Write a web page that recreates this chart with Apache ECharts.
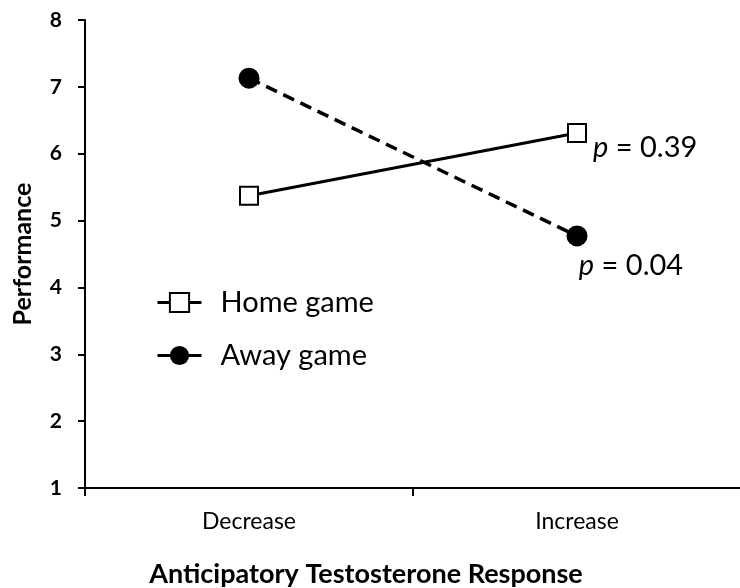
<!DOCTYPE html>
<html>
<head>
<meta charset="utf-8">
<script src="https://cdn.jsdelivr.net/npm/echarts@6/dist/echarts.min.js"></script>
<style>
  html, body { margin: 0; padding: 0; background: #fff; }
  #chart { width: 740px; height: 588px; }
</style>
</head>
<body>
<div id="chart"></div>
<script>
// data
var categories = ['Decrease', 'Increase']
var homeGame = [5.37, 6.31]
var awayGame = [7.13, 4.77]
var pLabels = ['0.39', '0.04']
var yTicks = { min: 1, max: 8, interval: 1 }

var font = 'Lato, "Open Sans", sans-serif'

var chart = echarts.init(document.getElementById('chart'))

var pStyle = {
	show: false,
	fontFamily: font,
	fontSize: 29,
	color: '#000',
	rich: { i: { fontFamily: font, fontSize: 29, fontStyle: 'italic', color: '#000' } }
}

var option = {
	animation: false,
	grid: {
		top: 20,
		bottom: 100,
		left: 85,
		right: -1,
		containLabel: false,
		outerBoundsMode: 'none'
	},
	legend: {
		orient: 'vertical',
		left: 151,
		top: 283,
		itemWidth: 44,
		itemHeight: 24,
		itemGap: 24,
		textStyle: {
			fontFamily: font,
			fontSize: 29,
			color: '#000',
			padding: [0, 0, 0, 14]
		},
		data: [
			{ name: 'Home game', lineStyle: { type: 'solid', width: 3 } },
			{ name: 'Away game', lineStyle: { type: 'solid', width: 3 } }
		]
	},
	xAxis: {
		type: 'category',
		data: categories,
		boundaryGap: true,
		name: 'Anticipatory Testosterone Response',
		nameLocation: 'middle',
		nameGap: 73,
		nameTextStyle: {
			fontFamily: font,
			fontSize: 27,
			fontWeight: 'bold',
			color: '#000',
			padding: [0, 94, 0, 0]
		},
		axisLine: { lineStyle: { color: '#000', width: 2 } },
		axisTick: { show: true, length: 8, lineStyle: { color: '#000', width: 2 } },
		axisLabel: {
			margin: 22,
			fontFamily: font,
			fontSize: 23,
			color: '#000'
		}
	},
	yAxis: {
		type: 'value',
		min: yTicks.min,
		max: yTicks.max,
		interval: yTicks.interval,
		name: 'Performance',
		nameLocation: 'middle',
		nameGap: 50,
		nameTextStyle: {
			fontFamily: font,
			fontSize: 25,
			fontWeight: 'bold',
			color: '#000'
		},
		splitLine: { show: false },
		axisLine: { show: true, lineStyle: { color: '#000', width: 2 } },
		axisTick: { show: true, length: 7, lineStyle: { color: '#000', width: 2 } },
		axisLabel: {
			margin: 23,
			fontFamily: font,
			fontSize: 21,
			fontWeight: 'bold',
			color: '#000'
		}
	},
	series: [
		{
			name: 'Home game',
			type: 'line',
			data: homeGame.map(function (v, i) {
				var item = { value: v }
				if (i === 1) {
					item.label = {
						show: true,
						position: 'right',
						distance: 6,
						offset: [0, 15],
						formatter: '{i|p} = ' + pLabels[0]
					}
				}
				return item
			}),
			symbol: 'rect',
			symbolSize: 18,
			itemStyle: { color: '#fff', borderColor: '#000', borderWidth: 2 },
			lineStyle: { color: '#000', width: 3, type: 'solid' },
			label: pStyle,
			z: 3
		},
		{
			name: 'Away game',
			type: 'line',
			data: awayGame.map(function (v, i) {
				var item = { value: v }
				if (i === 1) {
					item.label = {
						show: true,
						position: 'bottom',
						distance: 5,
						offset: [54, 0],
						formatter: '{i|p} = ' + pLabels[1]
					}
				}
				return item
			}),
			symbol: 'circle',
			symbolSize: 21,
			itemStyle: { color: '#000', borderColor: '#000', borderWidth: 0 },
			lineStyle: { color: '#000', width: 3.5, type: [12, 7] },
			label: pStyle,
			z: 2
		}
	]
}

chart.setOption(option)
</script>
</body>
</html>
